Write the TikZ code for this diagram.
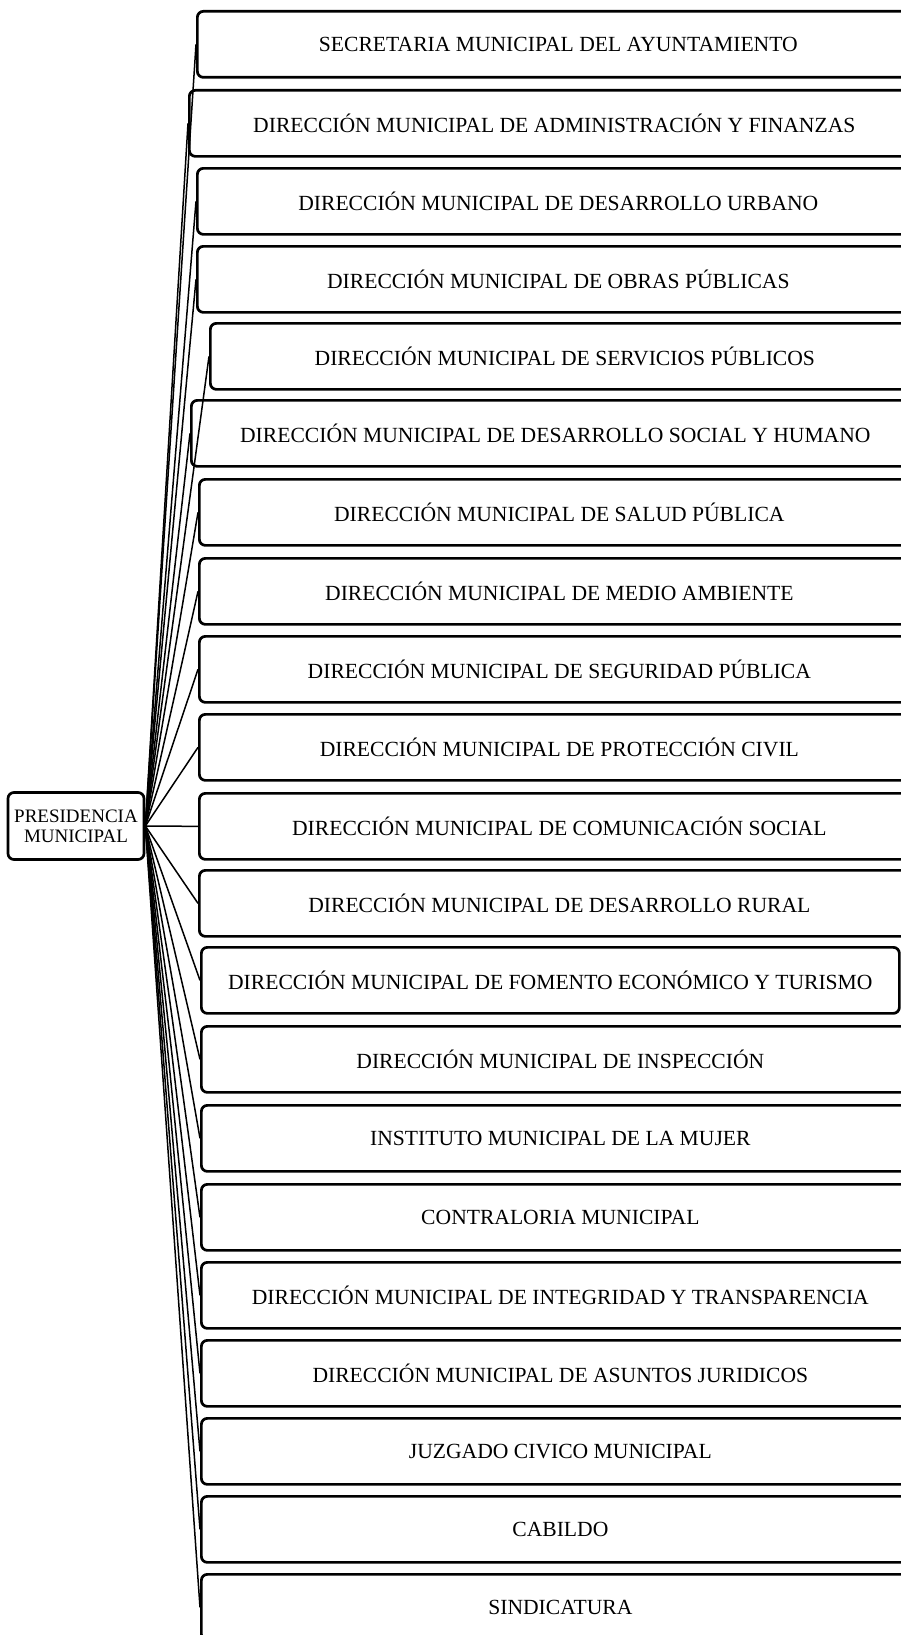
\documentclass[tikz,border=0pt]{standalone}
\usepackage{fontspec}
\setmainfont{Liberation Serif}
\usetikzlibrary{positioning}

\tikzset{
  caja/.style={draw, line width=2.7pt, rounded corners=6pt, anchor=north west,
    minimum height=66pt, inner sep=0pt, font=\fontsize{21.6}{25}\selectfont},
  enlace/.style={line width=1.5pt}
}

\begin{document}
\begin{tikzpicture}[x=1pt,y=-1pt]
		\useasboundingbox (0,0) rectangle (900,1635);
		% presidencia
		\node [draw, line width=2.7pt, rounded corners=6pt, minimum width=136pt, minimum height=67pt,
		  inner sep=0pt, align=center, font=\fontsize{19}{20}\selectfont] (pres) at (76,826) {PRESIDENCIA\\MUNICIPAL};
		% cajas
		\node [caja, minimum width=722pt] (secretaria) at (196,10) {SECRETARIA MUNICIPAL DEL AYUNTAMIENTO};
		\node [caja, minimum width=730pt] (finanzas) at (188,89) {DIRECCIÓN MUNICIPAL DE ADMINISTRACIÓN Y FINANZAS};
		\node [caja, minimum width=722pt] (urbano) at (196,167) {DIRECCIÓN MUNICIPAL DE DESARROLLO URBANO};
		\node [caja, minimum width=722pt] (obras) at (196,245) {DIRECCIÓN MUNICIPAL DE OBRAS PÚBLICAS};
		\node [caja, minimum width=709pt] (servicios) at (209,322) {DIRECCIÓN MUNICIPAL DE SERVICIOS PÚBLICOS};
		\node [caja, minimum width=728pt] (social) at (190,399) {DIRECCIÓN MUNICIPAL DE DESARROLLO SOCIAL Y HUMANO};
		\node [caja, minimum width=720pt] (salud) at (198,478) {DIRECCIÓN MUNICIPAL DE SALUD PÚBLICA};
		\node [caja, minimum width=720pt] (ambiente) at (198,557) {DIRECCIÓN MUNICIPAL DE MEDIO AMBIENTE};
		\node [caja, minimum width=720pt] (seguridad) at (198,635) {DIRECCIÓN MUNICIPAL DE SEGURIDAD PÚBLICA};
		\node [caja, minimum width=720pt] (proteccion) at (198,713) {DIRECCIÓN MUNICIPAL DE PROTECCIÓN CIVIL};
		\node [caja, minimum width=720pt] (comunicacion) at (198,792) {DIRECCIÓN MUNICIPAL DE COMUNICACIÓN SOCIAL};
		\node [caja, minimum width=720pt] (rural) at (198,869) {DIRECCIÓN MUNICIPAL DE DESARROLLO RURAL};
		\node [caja, minimum width=698pt] (fomento) at (200,946) {DIRECCIÓN MUNICIPAL DE FOMENTO ECONÓMICO Y TURISMO};
		\node [caja, minimum width=718pt] (inspeccion) at (200,1025) {DIRECCIÓN MUNICIPAL DE INSPECCIÓN};
		\node [caja, minimum width=718pt] (mujer) at (200,1104) {INSTITUTO MUNICIPAL DE LA MUJER};
		\node [caja, minimum width=718pt] (contraloria) at (200,1183) {CONTRALORIA MUNICIPAL};
		\node [caja, minimum width=718pt] (integridad) at (200,1261) {DIRECCIÓN MUNICIPAL DE INTEGRIDAD Y TRANSPARENCIA};
		\node [caja, minimum width=718pt] (juridicos) at (200,1339) {DIRECCIÓN MUNICIPAL DE ASUNTOS JURIDICOS};
		\node [caja, minimum width=718pt] (juzgado) at (200,1417) {JUZGADO CIVICO MUNICIPAL};
		\node [caja, minimum width=718pt] (cabildo) at (200,1495) {CABILDO};
		\node [caja, minimum width=718pt] (sindicatura) at (200,1573) {SINDICATURA};
		% conectores
		\draw [enlace] (pres.east) -- (secretaria.west);
		\draw [enlace] (pres.east) -- (finanzas.west);
		\draw [enlace] (pres.east) -- (urbano.west);
		\draw [enlace] (pres.east) -- (obras.west);
		\draw [enlace] (pres.east) -- (servicios.west);
		\draw [enlace] (pres.east) -- (social.west);
		\draw [enlace] (pres.east) -- (salud.west);
		\draw [enlace] (pres.east) -- (ambiente.west);
		\draw [enlace] (pres.east) -- (seguridad.west);
		\draw [enlace] (pres.east) -- (proteccion.west);
		\draw [enlace] (pres.east) -- (comunicacion.west);
		\draw [enlace] (pres.east) -- (rural.west);
		\draw [enlace] (pres.east) -- (fomento.west);
		\draw [enlace] (pres.east) -- (inspeccion.west);
		\draw [enlace] (pres.east) -- (mujer.west);
		\draw [enlace] (pres.east) -- (contraloria.west);
		\draw [enlace] (pres.east) -- (integridad.west);
		\draw [enlace] (pres.east) -- (juridicos.west);
		\draw [enlace] (pres.east) -- (juzgado.west);
		\draw [enlace] (pres.east) -- (cabildo.west);
		\draw [enlace] (pres.east) -- (sindicatura.west);
\end{tikzpicture}
\end{document}
